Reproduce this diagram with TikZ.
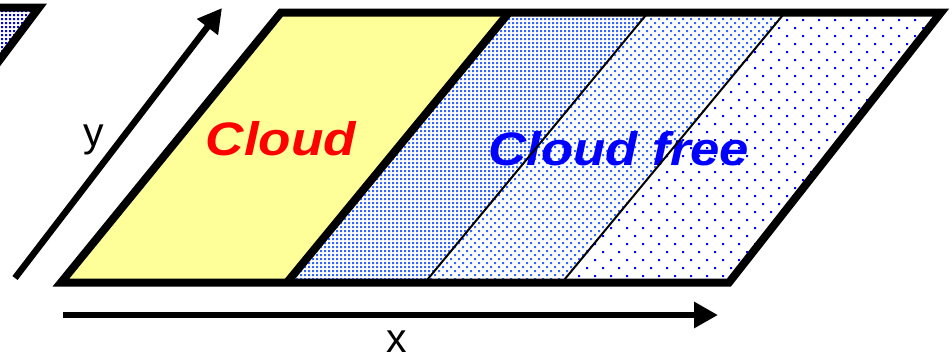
\documentclass[tikz,border=0pt]{standalone}
\usepackage{fontspec}
\setmainfont{Liberation Sans}
\usetikzlibrary{arrows.meta}
\definecolor{cloudyellow}{HTML}{FFFF99}
\definecolor{dotblue}{HTML}{3366FF}
\definecolor{pureblue}{HTML}{0000FF}
\definecolor{cloudred}{HTML}{FF0000}
\begin{document}
\begin{tikzpicture}[x=1pt,y=-1pt,
  outline/.style={line width=8pt, line join=miter},
  divider/.style={line width=2pt},
  axis/.style={line width=6.5pt, -{Triangle[length=24pt,width=25pt]}},
  axislabel/.style={font=\fontsize{41}{41}\selectfont, inner sep=0pt, anchor=base},
  biglabel/.style={font=\fontsize{47}{47}\selectfont\bfseries\itshape, inner sep=0pt, anchor=base},
]
\useasboundingbox (0,0) rectangle (952,359);
% corners of the main parallelogram
\coordinate (BL) at (61,282.5);
\coordinate (TL) at (281,12.5);
\coordinate (TR) at (941,12.5);
\coordinate (BR) at (729,282.5);
% dividing lines
\coordinate (S0b) at (287,282.5); \coordinate (S0t) at (509,12.5);
\coordinate (S1b) at (425,282.5); \coordinate (S1t) at (648,12.5);
\coordinate (S2b) at (562,282.5); \coordinate (S2t) at (785,12.5);
% left partial parallelogram
\begin{scope}
  \clip (0,0) rectangle (952,359);
  \coordinate (PL) at (-300,7.5);
  \coordinate (PR) at (39,7.5);
  \coordinate (PB) at (-186,307.5);
  \begin{scope}
    \clip (PL) -- (PR) -- (PB) -- cycle;
    \fill[pureblue] \foreach \i in {0,...,11} {\foreach \j in {0,...,16}
      {({1+4*\i},{10+4*\j}) rectangle ++(2,2)}};
  \end{scope}
  \draw[outline] (PL) -- (PR) -- (PB);
\end{scope}
% cloud area
\fill[cloudyellow] (BL) -- (TL) -- (S0t) -- (S0b) -- cycle;
% dense dots
\begin{scope}
  \clip (S0b) -- (S0t) -- (S1t) -- (S1b) -- cycle;
  \fill[dotblue] \foreach \i in {0,...,93} {\foreach \j in {0,...,68}
    {({280+4*\i},{10+4*\j}) rectangle ++(2,2)}};
\end{scope}
% medium dots
\begin{scope}
  \clip (S1b) -- (S1t) -- (S2t) -- (S2b) -- cycle;
  \fill[dotblue] \foreach \j in {0,...,68} {\foreach \i in {0,...,46}
    {({418+8*\i+4*mod(\j,2)},{10+4*\j}) rectangle ++(2,2)}};
\end{scope}
% sparse dots
\begin{scope}
  \clip (S2b) -- (S2t) -- (TR) -- (BR) -- cycle;
  \fill[pureblue] \foreach \j in {0,...,34} {\foreach \i in {0,...,25}
    {({554+16*\i+8*mod(\j,2)},{11+8*\j}) rectangle ++(2,2)}};
\end{scope}
% labels
\node[biglabel, text=cloudred] (cloud) at (281,155) {\scalebox{1.13}[1]{Cloud}};
\node[biglabel, text=pureblue] (free) at (619,165) {\scalebox{1.12}[1]{Cloud free}};
% lines
\draw[divider] (S1b) -- (S1t);
\draw[divider] (S2b) -- (S2t);
\draw[outline] (S0b) -- (S0t);
\draw[outline] (BL) -- (TL) -- (TR) -- (BR) -- cycle;
% axes
\coordinate (xs) at (63,315); \coordinate (xe) at (718,315);
\coordinate (ys) at (15,278); \coordinate (ye) at (222,8);
\draw[axis] (xs) -- (xe);
\draw[axis] (ys) -- (ye);
\node[axislabel] (xlab) at (397,352) {x};
\node[axislabel] (ylab) at (94,146) {y};
\end{tikzpicture}
\end{document}
